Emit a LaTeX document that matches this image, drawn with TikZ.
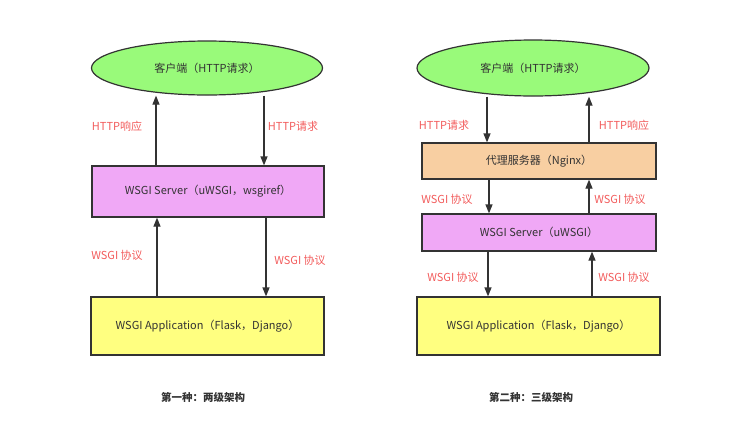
\documentclass[tikz,border=0pt]{standalone}
\usepackage{fontspec}
\setmainfont{Noto Sans CJK SC}
\usepackage{tikz}
\usetikzlibrary{arrows.meta,shapes.geometric}
\definecolor{cligreen}{HTML}{99FA7A}
\definecolor{srvpink}{HTML}{F0A8F6}
\definecolor{ngxpeach}{HTML}{F8CFA2}
\definecolor{appyellow}{HTML}{FFFF80}
\definecolor{lblred}{HTML}{F25C5C}
\definecolor{inkgray}{HTML}{333333}

\begin{document}
\begin{tikzpicture}[x=1pt,y=-1pt,line width=1.2pt, every node/.style={font=\fontsize{11}{13}\selectfont, text=inkgray}]
\tikzset{client/.style = {shape=ellipse,draw=inkgray,fill=cligreen,inner sep=0pt}}
\tikzset{box/.style = {shape=rectangle,draw=inkgray,inner sep=0pt}}
\tikzset{edge/.style = {draw=inkgray,-{Triangle[length=9pt,width=7pt]}}}
\tikzset{lbl/.style = {text=lblred}}
\tikzset{caption/.style = {font=\fontsize{10.5}{12}\selectfont\bfseries}}
\useasboundingbox (0,0) rectangle (743,432);
% first: two levels
\node[client, minimum width=231pt, minimum height=54pt] (cliL) at (207,68) {客户端（HTTP请求）};
\node[box, fill=srvpink, minimum width=232pt, minimum height=51pt] (srvL) at (208,191.5) {WSGI Server（uWSGI，wsgiref）};
\node[box, fill=appyellow, minimum width=233pt, minimum height=58pt] (appL) at (207.5,326) {WSGI Application（Flask，Django）};

\node[lbl] (respL) at (117,126) {HTTP响应};
\node[lbl] (reqL) at (293,126) {HTTP请求};
\node[lbl] (upL) at (117,255) {WSGI 协议};
\node[lbl] (downL) at (300,260) {WSGI 协议};
\node[caption] (capL) at (203,397) {第一种：两级架构};

% second: three levels
\node[client, minimum width=232pt, minimum height=56pt] (cliR) at (533,68) {客户端（HTTP请求）};
\node[box, fill=ngxpeach, minimum width=234pt, minimum height=36pt] (ngx) at (539,161) {代理服务器（Nginx）};
\node[box, fill=srvpink, minimum width=234pt, minimum height=37pt] (srvR) at (539,232.5) {WSGI Server（uWSGI）};
\node[box, fill=appyellow, minimum width=243pt, minimum height=58pt] (appR) at (538.5,326) {WSGI Application（Flask，Django）};

\node[lbl] (reqR) at (444,125) {HTTP请求};
\node[lbl] (respR) at (624,125) {HTTP响应};
\node[lbl] (ngxdown) at (447,199) {WSGI 协议};
\node[lbl] (ngxup) at (620,199) {WSGI 协议};
\node[lbl] (srvdown) at (453,277) {WSGI 协议};
\node[lbl] (srvup) at (624,277) {WSGI 协议};
\node[caption] (capR) at (531,397) {第二种：三级架构};

%edges
\draw[edge] ([xshift=-52pt]srvL.north) -- ([xshift=-52pt]srvL.north |- cliL.south);
\draw[edge] ([xshift=57pt]cliL.south) -- ([xshift=57pt]cliL.south |- srvL.north);
\draw[edge] ([xshift=-50.5pt]appL.north) -- ([xshift=-50.5pt]appL.north |- srvL.south);
\draw[edge] ([xshift=58pt]srvL.south) -- ([xshift=58pt]srvL.south |- appL.north);

\draw[edge] ([xshift=-46pt]cliR.south) -- ([xshift=-46pt]cliR.south |- ngx.north);
\draw[edge] ([xshift=50pt]ngx.north) -- ([xshift=50pt]ngx.north |- cliR.south);
\draw[edge] ([xshift=-50pt]ngx.south) -- ([xshift=-50pt]ngx.south |- srvR.north);
\draw[edge] ([xshift=50pt]srvR.north) -- ([xshift=50pt]srvR.north |- ngx.south);
\draw[edge] ([xshift=-51pt]srvR.south) -- ([xshift=-51pt]srvR.south |- appR.north);
\draw[edge] ([xshift=53.5pt]appR.north) -- ([xshift=53.5pt]appR.north |- srvR.south);

\end{tikzpicture}
\end{document}
